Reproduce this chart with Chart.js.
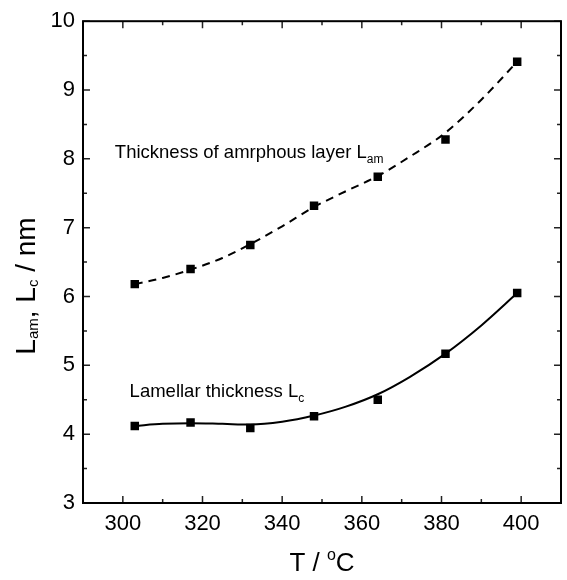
<!DOCTYPE html>
<html>
<head>
<meta charset="utf-8">
<script src="https://cdn.jsdelivr.net/npm/chart.js@4.4.1/dist/chart.umd.min.js"></script>
<style>
  html, body { margin: 0; padding: 0; background: #fff; }
  #wrap { width: 567px; height: 580px; }
</style>
</head>
<body>
<div id="wrap"><canvas id="c" width="567" height="580"></canvas></div>
<script>
// ---- data ----
const temps    = [303, 317, 332, 348, 364, 381, 399];
const lamValues = [6.18, 6.40, 6.75, 7.32, 7.74, 8.28, 9.41];
const lcValues  = [4.12, 4.17, 4.09, 4.26, 4.50, 5.17, 6.05];
// fitted curves
const fitT   = [303, 310, 317, 325, 332, 340, 348, 356, 364, 372, 381, 390, 399];
const lamFit = [6.18, 6.27, 6.39, 6.56, 6.76, 7.02, 7.30, 7.53, 7.75, 8.03, 8.38, 8.86, 9.41];
const lcFit  = [4.12, 4.15, 4.16, 4.15, 4.14, 4.18, 4.27, 4.40, 4.58, 4.83, 5.17, 5.58, 6.05];
// tick labels
const xTicks = [300, 320, 340, 360, 380, 400];
const yTicks = [3, 4, 5, 6, 7, 8, 9, 10];

const FONT = '"Liberation Sans", Arial, Helvetica, sans-serif';

function pts(xs, ys) { return xs.map((x, i) => ({ x: x, y: ys[i] })); }

function drawRich(ctx, parts, x, y, align) {
  let total = 0;
  parts.forEach(p => { ctx.font = p.s + 'px ' + FONT; p.w = ctx.measureText(p.t).width; total += p.w; });
  let cx = align === 'center' ? x - total / 2 : x;
  ctx.textBaseline = 'alphabetic';
  ctx.textAlign = 'left';
  parts.forEach(p => {
    ctx.font = p.s + 'px ' + FONT;
    ctx.fillText(p.t, cx, y + (p.dy || 0));
    cx += p.w;
  });
}

const framePlugin = {
  id: 'frame',
  afterDraw(chart) {
    const ctx = chart.ctx;
    const { left, right, top, bottom } = chart.chartArea;
    const xs = chart.scales.x, ys = chart.scales.y;
    ctx.save();
    // ticks
    ctx.strokeStyle = '#222';
    ctx.lineWidth = 1.5;
    const MAJ = 7, MIN = 4;
    const xMinor = [];
    for (let i = 0; i < xTicks.length - 1; i++) xMinor.push((xTicks[i] + xTicks[i + 1]) / 2);
    xMinor.push(xTicks[xTicks.length - 1] + (xTicks[1] - xTicks[0]) / 2);
    xMinor.unshift(xTicks[0] - (xTicks[1] - xTicks[0]) / 2);
    const yMinor = [];
    for (let i = 0; i < yTicks.length - 1; i++) yMinor.push((yTicks[i] + yTicks[i + 1]) / 2);
    ctx.beginPath();
    xTicks.forEach(v => {
      const px = xs.getPixelForValue(v);
      ctx.moveTo(px, bottom); ctx.lineTo(px, bottom - MAJ);
      ctx.moveTo(px, top); ctx.lineTo(px, top + MAJ);
    });
    xMinor.forEach(v => {
      const px = xs.getPixelForValue(v);
      if (px <= left + 1 || px >= right - 1) return;
      ctx.moveTo(px, bottom); ctx.lineTo(px, bottom - MIN);
      ctx.moveTo(px, top); ctx.lineTo(px, top + MIN);
    });
    yTicks.forEach(v => {
      const py = ys.getPixelForValue(v);
      ctx.moveTo(left, py); ctx.lineTo(left + MAJ, py);
      ctx.moveTo(right, py); ctx.lineTo(right - MAJ, py);
    });
    yMinor.forEach(v => {
      const py = ys.getPixelForValue(v);
      ctx.moveTo(left, py); ctx.lineTo(left + MIN, py);
      ctx.moveTo(right, py); ctx.lineTo(right - MIN, py);
    });
    ctx.stroke();
    // frame
    ctx.strokeStyle = '#000';
    ctx.lineWidth = 2;
    ctx.strokeRect(left, top, right - left, bottom - top);

    ctx.fillStyle = '#000';
    // x title
    drawRich(ctx, [
      { t: 'T / ', s: 26 },
      { t: 'o', s: 16, dy: -11 },
      { t: 'C', s: 26 }
    ], (left + right) / 2, 571, 'center');
    // y title
    ctx.save();
    ctx.translate(35, 286);
    ctx.rotate(-Math.PI / 2);
    drawRich(ctx, [
      { t: 'L', s: 28 },
      { t: 'am', s: 15, dy: 3 },
      { t: ', L', s: 28 },
      { t: 'c', s: 15, dy: 3 },
      { t: ' / nm', s: 28 }
    ], 0, 0, 'center');
    ctx.restore();
    // annotations
    drawRich(ctx, [
      { t: 'Thickness of amrphous layer L', s: 18.5 },
      { t: 'am', s: 12, dy: 5 }
    ], xs.getPixelForValue(298), ys.getPixelForValue(8.01), 'left');
    drawRich(ctx, [
      { t: 'Lamellar thickness L', s: 18.5 },
      { t: 'c', s: 12, dy: 5 }
    ], xs.getPixelForValue(301.7), ys.getPixelForValue(4.54), 'left');
    ctx.restore();
  }
};

new Chart(document.getElementById('c'), {
  type: 'scatter',
  data: {
    datasets: [
      {
        label: 'Lam fit', data: pts(fitT, lamFit), showLine: true,
        borderColor: '#000', borderWidth: 2, borderDash: [8, 6],
        pointRadius: 0, cubicInterpolationMode: 'monotone', fill: false
      },
      {
        label: 'Lc fit', data: pts(fitT, lcFit), showLine: true,
        borderColor: '#000', borderWidth: 2,
        pointRadius: 0, cubicInterpolationMode: 'monotone', fill: false
      },
      {
        label: 'Lam', data: pts(temps, lamValues),
        pointStyle: 'rect', pointRadius: 6, pointBorderWidth: 0,
        backgroundColor: '#000', borderColor: '#000'
      },
      {
        label: 'Lc', data: pts(temps, lcValues),
        pointStyle: 'rect', pointRadius: 6, pointBorderWidth: 0,
        backgroundColor: '#000', borderColor: '#000'
      }
    ]
  },
  options: {
    responsive: false,
    animation: false,
    devicePixelRatio: 1,
    layout: { padding: { left: 0, top: 21, right: 2, bottom: 0 } },
    plugins: { legend: { display: false }, tooltip: { enabled: false } },
    scales: {
      x: {
        type: 'linear', min: 290, max: 410,
        afterBuildTicks: s => { s.ticks = xTicks.map(v => ({ value: v })); },
        afterFit: s => { s.height = 77; },
        grid: { display: false, drawTicks: false },
        border: { display: false },
        ticks: { padding: 8, color: '#000', font: { family: FONT, size: 22 } },
        title: { display: false }
      },
      y: {
        type: 'linear', min: 3, max: 10,
        afterBuildTicks: s => { s.ticks = yTicks.map(v => ({ value: v })); },
        afterFit: s => { s.width = 83; },
        grid: { display: false, drawTicks: false },
        border: { display: false },
        ticks: { padding: 8, color: '#000', font: { family: FONT, size: 22 } },
        title: { display: false }
      }
    }
  },
  plugins: [framePlugin]
});
</script>
</body>
</html>
